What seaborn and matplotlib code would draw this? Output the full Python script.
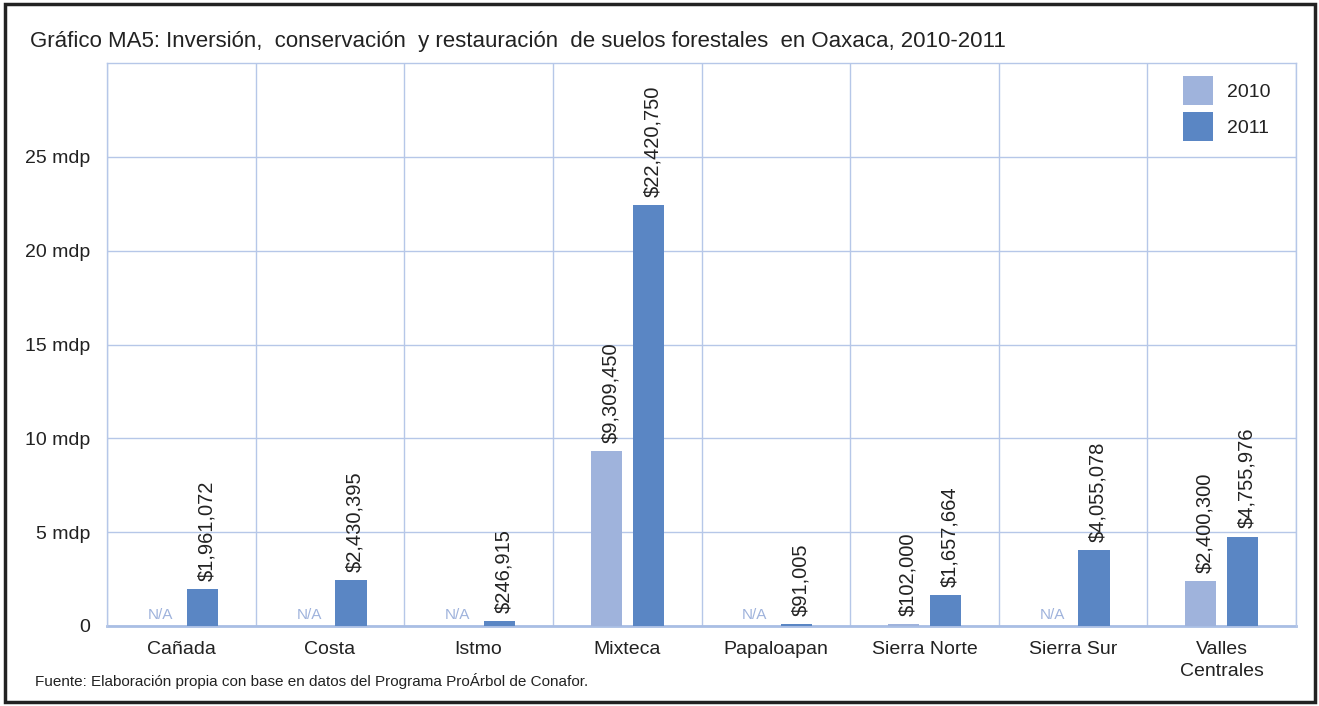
import numpy as np
import pandas as pd
import matplotlib
matplotlib.use("Agg")
import matplotlib.pyplot as plt
from matplotlib.patches import Rectangle
from matplotlib.ticker import FixedLocator, MultipleLocator
import seaborn as sns

categories = ["Cañada", "Costa", "Istmo", "Mixteca", "Papaloapan",
              "Sierra Norte", "Sierra Sur", "Valles\nCentrales"]
values_2010 = [np.nan, np.nan, np.nan, 9309450, np.nan, 102000, np.nan, 2400300]
values_2011 = [1961072, 2430395, 246915, 22420750, 91005, 1657664, 4055078, 4755976]
years = ["2010", "2011"]
ytick_vals = [0, 5, 10, 15, 20, 25]
ytick_labels = ["0", "5 mdp", "10 mdp", "15 mdp", "20 mdp", "25 mdp"]

c2010 = "#9FB3DC"
c2011 = "#5A86C4"
grid_c = "#B6C7E8"

rows = []
for cat, a, b in zip(categories, values_2010, values_2011):
    rows.append({"Región": cat, "Año": "2010", "pesos": a, "mdp": a / 1e6})
    rows.append({"Región": cat, "Año": "2011", "pesos": b, "mdp": b / 1e6})
df = pd.DataFrame(rows)

sns.set_theme(style="white")
plt.rcParams["font.family"] = ["Liberation Sans", "DejaVu Sans"]

fig = plt.figure(figsize=(13.19, 7.06), dpi=100)
ax = fig.add_axes([107 / 1319, 1 - 626 / 706, (1296 - 107) / 1319, (626 - 63) / 706])

sns.barplot(data=df, x="Región", y="mdp", hue="Año", order=categories,
            hue_order=years, palette=[c2010, c2011], width=0.565, gap=0.255,
            ax=ax, legend=True, saturation=1, linewidth=0)
for p in ax.patches:
    p.set_zorder(3)

ax.set_xlim(-0.5, len(categories) - 0.5)
ax.set_ylim(0, 30)
ax.set_xlabel("")
ax.set_ylabel("")

ax.yaxis.set_major_locator(FixedLocator(ytick_vals))
ax.set_yticklabels(ytick_labels, fontsize=14, color="#222222")
ax.xaxis.set_minor_locator(MultipleLocator(1, offset=0.5))
ax.set_axisbelow(True)
ax.grid(True, axis="y", which="major", color=grid_c, linewidth=1.0)
ax.grid(True, axis="x", which="minor", color=grid_c, linewidth=1.0)
ax.grid(False, axis="x", which="major")
ax.tick_params(axis="both", which="both", length=0)
ax.tick_params(axis="y", pad=12)
ax.tick_params(axis="x", pad=11)
for lab in ax.get_xticklabels():
    lab.set_fontsize(14)
    lab.set_color("#222222")
    lab.set_linespacing(1.35)
    lab.set_verticalalignment("top")

for s in ["top", "left", "right"]:
    ax.spines[s].set_color(grid_c)
    ax.spines[s].set_linewidth(1.0)
ax.spines["bottom"].set_color("#A9BEE4")
ax.spines["bottom"].set_linewidth(2.0)
ax.spines["bottom"].set_zorder(2)

# value labels
for i, (a, b) in enumerate(zip(values_2010, values_2011)):
    for off, v in [(-0.141, a), (0.141, b)]:
        if np.isnan(v):
            ax.annotate("N/A", (i + off, 0), xytext=(0, 3), textcoords="offset points",
                        ha="center", va="bottom", fontsize=11, color=c2010)
        else:
            ax.annotate(f"${int(v):,}", (i + off, v / 1e6), xytext=(3, 6),
                        textcoords="offset points", ha="center", va="bottom",
                        rotation=90, fontsize=14.5, color="#222222")

leg = ax.legend(loc="upper left", bbox_to_anchor=((1175 - 107) / (1296 - 107), 0.99),
                frameon=False, fontsize=14, handlelength=1.55, handleheight=1.9,
                handletextpad=0.75, labelspacing=0.35, borderaxespad=0)
for t in leg.get_texts():
    t.set_color("#222222")

fig.text(30 / 1319, 1 - 42 / 706, "Gráfico MA5: Inversión,  conservación  y restauración  de suelos forestales  en Oaxaca, 2010-2011",
         fontsize=16, color="#222222", va="center", ha="left")
fig.text(35 / 1319, 1 - 681 / 706, "Fuente: Elaboración propia con base en datos del Programa ProÁrbol de Conafor.",
         fontsize=11, color="#222222", va="center", ha="left")

fig.patches.append(Rectangle((5 / 1319, 4 / 706), 1310 / 1319, 698 / 706,
                             transform=fig.transFigure, fill=False,
                             edgecolor="#222222", linewidth=2.5))

fig.savefig("out.png", dpi=100)
